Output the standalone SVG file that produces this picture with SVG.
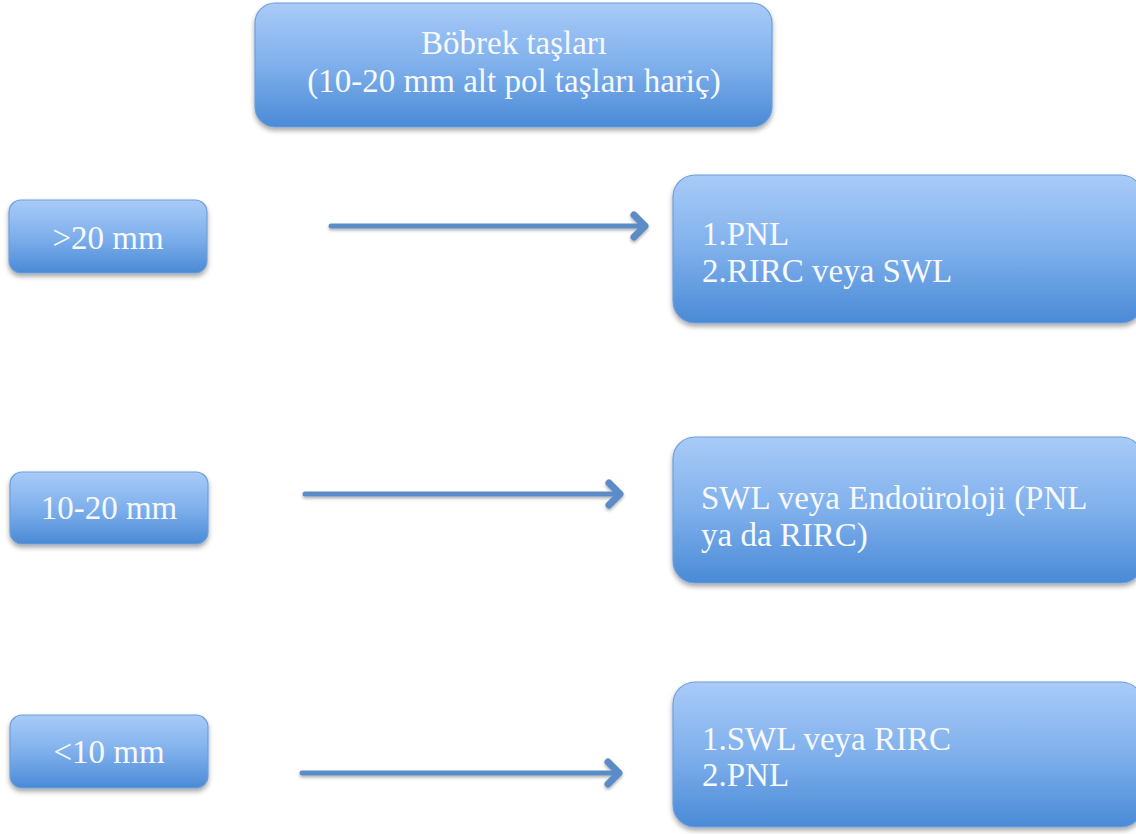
<svg xmlns="http://www.w3.org/2000/svg" width="1136" height="834" viewBox="0 0 1136 834">
<defs>
<linearGradient id="g" x1="0" y1="0" x2="0" y2="1">
<stop offset="0" stop-color="#a9cbf8"/>
<stop offset="0.5" stop-color="#7fb0ec"/>
<stop offset="1" stop-color="#4a8ad6"/>
</linearGradient>
<filter id="sh" x="-10%" y="-10%" width="120%" height="130%">
<feDropShadow dx="0" dy="3" stdDeviation="2.5" flood-color="#000" flood-opacity="0.35"/>
</filter>
<filter id="ash" x="-5%" y="-50%" width="110%" height="200%">
<feDropShadow dx="0" dy="2" stdDeviation="1.5" flood-color="#000" flood-opacity="0.3"/>
</filter>
</defs>
<style>
.box{fill:url(#g);stroke:#6e9ed8;stroke-width:1.2;filter:url(#sh)}
.t{font-family:"Liberation Serif","Times New Roman",serif;font-size:33px;fill:#f7f9fd}
.c{text-anchor:middle}
.ln{stroke:#5b8cc8;stroke-width:5;fill:none;stroke-linecap:round;stroke-linejoin:round}
.hd{stroke:#5b8cc8;stroke-width:7;fill:none;stroke-linecap:round;stroke-linejoin:round}
</style>
<rect width="1136" height="834" fill="#ffffff"/>
<g id="top">
<rect class="box" x="255" y="3" width="517" height="124" rx="20"/>
<text class="t c" x="514" y="54">Böbrek taşları</text>
<text class="t c" x="514" y="92">(10-20 mm alt pol taşları hariç)</text>
</g>
<g id="n-gt20">
<rect class="box" x="9" y="200" width="198" height="73" rx="12"/>
<text class="t c" x="108" y="249">&gt;20 mm</text>
</g>
<g id="n-10-20">
<rect class="box" x="10" y="472" width="198" height="72" rx="12"/>
<text class="t c" x="109" y="519">10-20 mm</text>
</g>
<g id="n-lt10">
<rect class="box" x="10" y="715" width="198" height="73" rx="12"/>
<text class="t c" x="109" y="763">&lt;10 mm</text>
</g>
<g id="r1">
<rect class="box" x="673" y="175" width="470" height="148" rx="22"/>
<text class="t" x="702" y="245">1.PNL</text>
<text class="t" x="702" y="282">2.RIRC veya SWL</text>
</g>
<g id="r2">
<rect class="box" x="673" y="437" width="470" height="146" rx="22"/>
<text class="t" x="701" y="509">SWL veya Endoüroloji (PNL</text>
<text class="t" x="701" y="546">ya da RIRC)</text>
</g>
<g id="r3">
<rect class="box" x="673" y="682" width="470" height="145" rx="22"/>
<text class="t" x="702" y="750">1.SWL veya RIRC</text>
<text class="t" x="702" y="786">2.PNL</text>
</g>
<g id="connectors" filter="url(#ash)">
<path class="ln" d="M331 226 H642"/>
<path class="hd" d="M634 215 L645 226 L634 237"/>
<path class="ln" d="M305 494 H617"/>
<path class="hd" d="M609 483 L620 494 L609 505"/>
<path class="ln" d="M302 773 H616"/>
<path class="hd" d="M608 762 L619 773 L608 784"/>
</g>
</svg>
